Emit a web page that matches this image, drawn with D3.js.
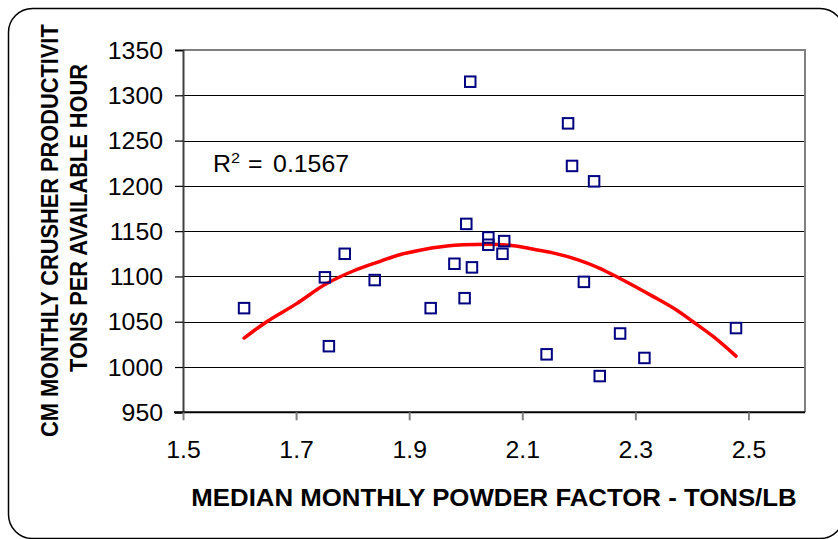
<!DOCTYPE html>
<html><head><meta charset="utf-8">
<script src="https://cdn.jsdelivr.net/npm/d3@7"></script>
<style>body{margin:0;background:#fff}svg{display:block}text{font-family:"Liberation Sans",Arial,sans-serif;fill:#000}</style>
</head><body><svg id="c" width="838" height="539"></svg>
<script>
const xValues=[1.608,1.751,1.758,1.839,1.786,2.008,2.181,2.188,2.227,2.001,2.040,2.040,2.068,2.065,1.980,2.011,1.938,1.998,2.209,2.143,2.273,2.237,2.316,2.478];
const yValues=[1065,1099,1023,1096,1125,1315,1269,1222,1205,1158,1143,1135,1139,1125,1114,1110,1065,1076,1094,1014,1037,990,1010,1043];
const trendX=[1.608,1.648,1.701,1.751,1.801,1.850,1.883,1.919,1.960,1.995,2.040,2.084,2.120,2.154,2.200,2.237,2.272,2.331,2.370,2.402,2.437,2.478];
const trendY=[1032,1050,1070,1091,1106,1117,1124,1129,1133,1135,1135.5,1134,1130,1126,1118,1109,1098,1078,1064,1050,1034,1012];
const xTicks=[1.5,1.7,1.9,2.1,2.3,2.5];
const yTicks=[950,1000,1050,1100,1150,1200,1250,1300,1350];
const xTitle="MEDIAN MONTHLY POWDER FACTOR - TONS/LB";
const yTitle1="CM MONTHLY CRUSHER PRODUCTIVIT";
const yTitle2="TONS PER AVAILABLE HOUR";
const r2Value="0.1567";

const svg=d3.select("#c");
const SX=1.08;
const x=d3.scaleLinear().domain([1.5,2.6]).range([183,805]);
const y=d3.scaleLinear().domain([950,1350]).range([412.3,50]);

// outer rounded frame
svg.append("rect").attr("x",8.5).attr("y",8.5).attr("width",835.5).attr("height",530)
  .attr("rx",24).attr("fill","#fff").attr("stroke","#000").attr("stroke-width",1.5);

// gridlines
svg.append("g").selectAll("line").data(yTicks.filter(d=>d>950&&d<1350)).join("line")
  .attr("x1",x(1.5)).attr("x2",x(2.6)).attr("y1",d=>Math.round(y(d))+0.5).attr("y2",d=>Math.round(y(d))+0.5)
  .attr("stroke","#000").attr("stroke-width",1);

// plot frame top/right (gray)
svg.append("path").attr("d",`M${x(1.5)},${y(1350)}H${x(2.6)}V${y(950)}`)
  .attr("fill","none").attr("stroke","#808080").attr("stroke-width",2);

// y axis
const ya=svg.append("g").attr("transform",`translate(${x(1.5)},0)`)
  .call(d3.axisLeft(y).tickValues(yTicks).tickSize(8).tickFormat(d3.format("d")));
ya.select(".domain").attr("stroke","#404040").attr("stroke-width",2);
ya.selectAll(".tick line").attr("stroke","#000").attr("stroke-width",1.2);
ya.selectAll(".tick text").attr("x",-18.5).attr("dy",null).attr("y",8.2)
  .attr("font-size",23).attr("transform",`scale(${SX},1)`).attr("text-anchor","end").style("fill","#000");

// x axis
const xa=svg.append("g").attr("transform",`translate(0,${y(950)})`)
  .call(d3.axisBottom(x).tickValues(xTicks).tickSize(8).tickFormat(d3.format(".1f")));
xa.select(".domain").attr("stroke","#000").attr("stroke-width",2).attr("d",`M${x(1.5)-9},0H${x(2.6)}`);
xa.selectAll(".tick line").attr("stroke","#808080").attr("stroke-width",2);
xa.selectAll(".tick text").attr("dy",null).attr("y",46).attr("font-size",23)
  .attr("transform",`scale(${SX},1)`).style("fill","#000");

// trend line
svg.append("path").datum(trendX.map((d,i)=>[d,trendY[i]]))
  .attr("d",d3.line().x(d=>x(d[0])).y(d=>y(d[1])).curve(d3.curveMonotoneX))
  .attr("fill","none").attr("stroke","#ff0000").attr("stroke-width",3.5).attr("stroke-linecap","round");

// points
svg.append("g").selectAll("rect").data(xValues.map((d,i)=>[d,yValues[i]])).join("rect")
  .attr("x",d=>x(d[0])-5.25).attr("y",d=>y(d[1])-5.25).attr("width",10.5).attr("height",10.5)
  .attr("fill","none").attr("stroke","#000080").attr("stroke-width",2);

// R^2 label
const rt=svg.append("text").attr("transform",`translate(213,171.5) scale(${SX},1)`).attr("font-size",23);
rt.append("tspan").text("R");
rt.append("tspan").attr("font-size",15).attr("dy",-9).text("2");
rt.append("tspan").attr("dy",9).attr("dx",1).text(" =");
rt.append("tspan").attr("dx",3.5).text(" "+r2Value);

// x title
svg.append("text").attr("transform",`translate(494,505.5) scale(${SX},1)`).attr("text-anchor","middle")
  .attr("font-size",23.9).attr("font-weight","bold").text(xTitle);

// y titles
svg.append("text").attr("transform",`translate(58.3,437) rotate(-90) scale(1,${SX})`).attr("text-anchor","start")
  .attr("font-size",21.8).attr("font-weight","bold").text(yTitle1);
svg.append("text").attr("transform",`translate(87.3,218) rotate(-90) scale(1,${SX})`).attr("text-anchor","middle")
  .attr("font-size",21.8).attr("font-weight","bold").text(yTitle2);
</script></body></html>
